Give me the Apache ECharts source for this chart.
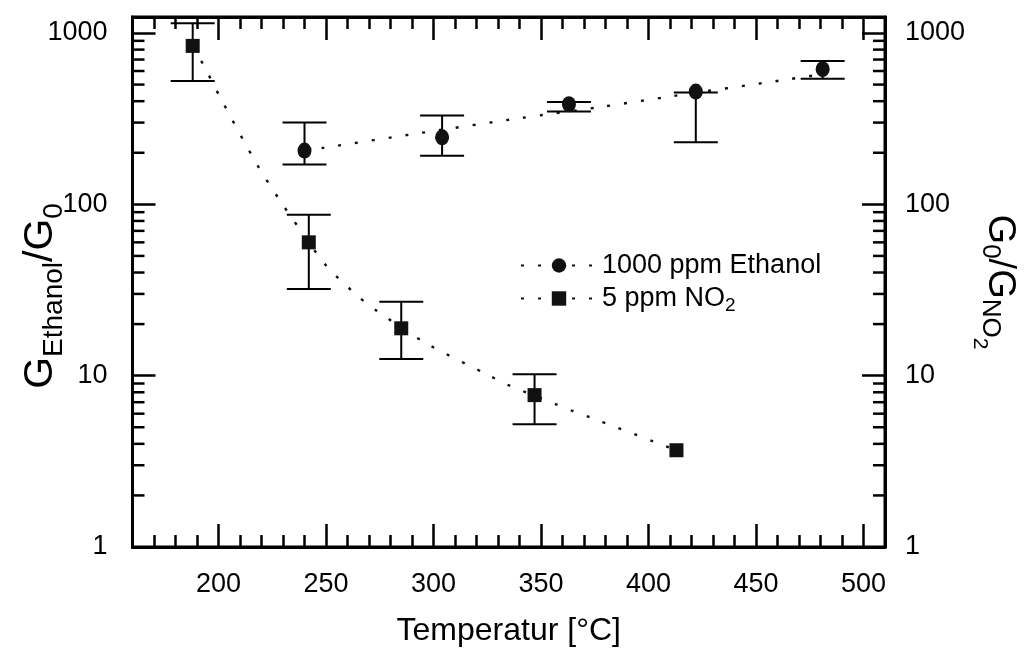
<!DOCTYPE html>
<html>
<head>
<meta charset="utf-8">
<script src="https://cdn.jsdelivr.net/npm/echarts@6/dist/echarts.min.js"></script>
<style>
html,body{margin:0;padding:0;background:#fff;}
#main{width:1026px;height:648px;}
</style>
</head>
<body>
<div id="main"></div>
<script>
// measured points, 1000 ppm Ethanol
var ethTemp = [240, 304, 363, 422, 481];
var ethVal  = [206, 246, 384, 455, 615];
var ethLow  = [171, 192, 348, 230, 540];
var ethHigh = [300, 330, 395, 450, 687];

// measured points, 5 ppm NO2 (last one has no error bar)
var no2Temp = [188, 242, 285, 347, 413];
var no2Val  = [841, 60, 18.9, 7.7, 3.67];
var no2Low  = [525, 32, 12.5, 5.2, null];
var no2High = [1140, 87, 27, 10.2, null];

// dotted trend curves
var ethTrendT = [240, 249, 295, 340, 379, 410, 463, 481];
var ethTrendV = [206, 214, 262, 318, 372, 426, 532, 575];
var no2TrendT = [188, 193, 201, 218, 228, 238, 250, 265, 273, 296, 326, 334, 357, 365, 373, 403, 413];
var no2TrendV = [841, 651, 416, 170, 108, 71, 44, 29, 24.2, 15.6, 10, 8.9, 6.8, 6.2, 5.7, 4.1, 3.67];

// log axis: major labels and minor tick values
var majorVals = [1, 10, 100, 1000];
var minorVals = [2, 3, 4, 5, 6, 7, 8, 9, 20, 30, 40, 50, 60, 70, 80, 90, 200, 300, 400, 500, 600, 700, 800, 900];

var xMin = 160, xMax = 510;
var yMin = 1, yMax = 1240;

var FONT = "'Liberation Sans', Arial, sans-serif";
var INK = '#111';

function zip(a, b) {
    var out = [];
    for (var i = 0; i < a.length; i++) out.push([a[i], b[i]]);
    return out;
}

function errData(t, lo, hi) {
    var out = [];
    for (var i = 0; i < t.length; i++) {
        if (lo[i] == null) continue;
        out.push([t[i], lo[i], hi[i]]);
    }
    return out;
}

function renderErr(params, api) {
    var lo = api.coord([api.value(0), api.value(1)]);
    var hi = api.coord([api.value(0), api.value(2)]);
    var half = 22;
    var st = {stroke: '#000', lineWidth: 2};
    return {
        type: 'group',
        children: [
            {type: 'line', shape: {x1: lo[0], y1: lo[1], x2: hi[0], y2: hi[1]}, style: st},
            {type: 'line', shape: {x1: lo[0] - half, y1: lo[1], x2: lo[0] + half, y2: lo[1]}, style: st},
            {type: 'line', shape: {x1: hi[0] - half, y1: hi[1], x2: hi[0] + half, y2: hi[1]}, style: st}
        ]
    };
}

// short ticks at 2..9 of each decade, on both y axes
function renderMinor(params, api) {
    var l = api.coord([xMin, api.value(0)]);
    var r = api.coord([xMax, api.value(0)]);
    var st = {stroke: '#000', lineWidth: 2.5};
    return {
        type: 'group',
        children: [
            {type: 'line', shape: {x1: l[0], y1: l[1], x2: l[0] + 12, y2: l[1]}, style: st},
            {type: 'line', shape: {x1: r[0] - 12, y1: r[1], x2: r[0], y2: r[1]}, style: st}
        ]
    };
}

var chart = echarts.init(document.getElementById('main'));

var logLabel = function (v) {
    var r = Math.round(v);
    return majorVals.indexOf(r) >= 0 && Math.abs(v - r) < 1e-6 ? String(r) : '';
};

var yBase = {
    type: 'log',
    logBase: 10,
    min: yMin,
    max: yMax,
    splitLine: {show: false},
    axisLine: {lineStyle: {color: '#000', width: 3}},
    axisTick: {inside: true, length: 23, lineStyle: {color: '#000', width: 2.5}},
    axisLabel: {fontSize: 27, color: '#000', fontFamily: FONT, formatter: logLabel, showMaxLabel: false}
};

var xBase = {
    type: 'value',
    min: xMin,
    max: xMax,
    splitNumber: 7,
    splitLine: {show: false},
    axisLine: {lineStyle: {color: '#000', width: 3}},
    axisTick: {inside: true, length: 23, lineStyle: {color: '#000', width: 2.5}},
    minorTick: {show: true, splitNumber: 5, length: 12, lineStyle: {color: '#000', width: 2.5}}
};

var option = {
    backgroundColor: '#fff',
    animation: false,
    grid: {left: 132.5, right: 141, top: 17, bottom: 101, outerBoundsMode: 'none',
           show: true, borderColor: '#000', borderWidth: 3},
    legend: {
        orient: 'vertical',
        left: 515,
        top: 247,
        itemWidth: 76,
        itemHeight: 18,
        itemGap: 6,
        data: ['1000 ppm Ethanol', '5 ppm NO2'],
        formatter: function (name) {
            return name === '5 ppm NO2' ? '5 ppm NO{sub|2}' : name;
        },
        textStyle: {
            fontSize: 27, color: '#000', fontFamily: FONT,
            rich: {sub: {fontSize: 19, fontFamily: FONT, color: '#000', padding: [14, 0, 0, 0]}}
        }
    },
    xAxis: [
        Object.assign({}, xBase, {
            position: 'bottom',
            name: 'Temperatur [°C]',
            nameLocation: 'middle',
            nameGap: 68,
            nameMoveOverlap: false,
            nameTextStyle: {fontSize: 32, color: '#000', fontFamily: FONT},
            axisLabel: {fontSize: 27, color: '#000', fontFamily: FONT, margin: 24,
                        showMinLabel: false, showMaxLabel: false}
        }),
        Object.assign({}, xBase, {
            position: 'top',
            axisLabel: {show: false}
        })
    ],
    yAxis: [
        Object.assign({}, yBase, {
            position: 'left',
            name: '{m|G}{s|Ethanol}{m|/G}{s|0}',
            nameLocation: 'middle',
            nameRotate: 90,
            nameGap: 64,
            nameMoveOverlap: false,
            nameTextStyle: {
                padding: [0, 28, 0, 0],
                rich: {
                    m: {fontSize: 41, fontFamily: FONT, color: '#000', lineHeight: 56, verticalAlign: 'middle'},
                    s: {fontSize: 28, fontFamily: FONT, color: '#000', lineHeight: 28, verticalAlign: 'bottom'}
                }
            },
            axisLabel: Object.assign({}, yBase.axisLabel, {margin: 25})
        }),
        Object.assign({}, yBase, {
            position: 'right',
            name: '{m|G}{s|0}{m|/G}{s|NO}{ss|2}',
            nameLocation: 'middle',
            nameRotate: -90,
            nameGap: 84,
            nameMoveOverlap: false,
            nameTextStyle: {
                rich: {
                    m: {fontSize: 38, fontFamily: FONT, color: '#000', lineHeight: 60, verticalAlign: 'middle'},
                    s: {fontSize: 26, fontFamily: FONT, color: '#000', lineHeight: 26, verticalAlign: 'bottom', padding: [0, 0, 8, 0]},
                    ss: {fontSize: 21, fontFamily: FONT, color: '#000', lineHeight: 21, verticalAlign: 'bottom'}
                }
            },
            axisLabel: Object.assign({}, yBase.axisLabel, {margin: 20})
        })
    ],
    series: [
        {
            name: '1000 ppm Ethanol',
            type: 'line',
            smooth: 0.3,
            showSymbol: false,
            symbol: 'circle',
            symbolSize: 14,
            itemStyle: {color: INK},
            lineStyle: {color: INK, width: 2.4, type: [3, 14]},
            data: zip(ethTrendT, ethTrendV),
            z: 2
        },
        {
            name: '5 ppm NO2',
            type: 'line',
            smooth: 0.3,
            showSymbol: false,
            symbol: 'rect',
            symbolSize: 14,
            itemStyle: {color: INK},
            lineStyle: {color: INK, width: 2.4, type: [3, 14]},
            data: zip(no2TrendT, no2TrendV),
            z: 2
        },
        {
            name: '1000 ppm Ethanol',
            type: 'custom',
            renderItem: renderErr,
            encode: {x: 0, y: [1, 2]},
            data: errData(ethTemp, ethLow, ethHigh),
            z: 3
        },
        {
            name: '5 ppm NO2',
            type: 'custom',
            renderItem: renderErr,
            encode: {x: 0, y: [1, 2]},
            data: errData(no2Temp, no2Low, no2High),
            z: 3
        },
        {
            name: '1000 ppm Ethanol',
            type: 'scatter',
            symbol: 'circle',
            symbolSize: [14, 16],
            itemStyle: {color: INK, opacity: 1},
            data: zip(ethTemp, ethVal),
            z: 4
        },
        {
            name: '5 ppm NO2',
            type: 'scatter',
            symbol: 'rect',
            symbolSize: 14,
            itemStyle: {color: INK, opacity: 1},
            data: zip(no2Temp, no2Val),
            z: 4
        },
        {
            name: 'minor ticks',
            type: 'custom',
            renderItem: renderMinor,
            encode: {y: 0},
            data: minorVals.map(function (v) { return [v]; }),
            silent: true,
            z: 5
        }
    ]
};

chart.setOption(option);
</script>
</body>
</html>
